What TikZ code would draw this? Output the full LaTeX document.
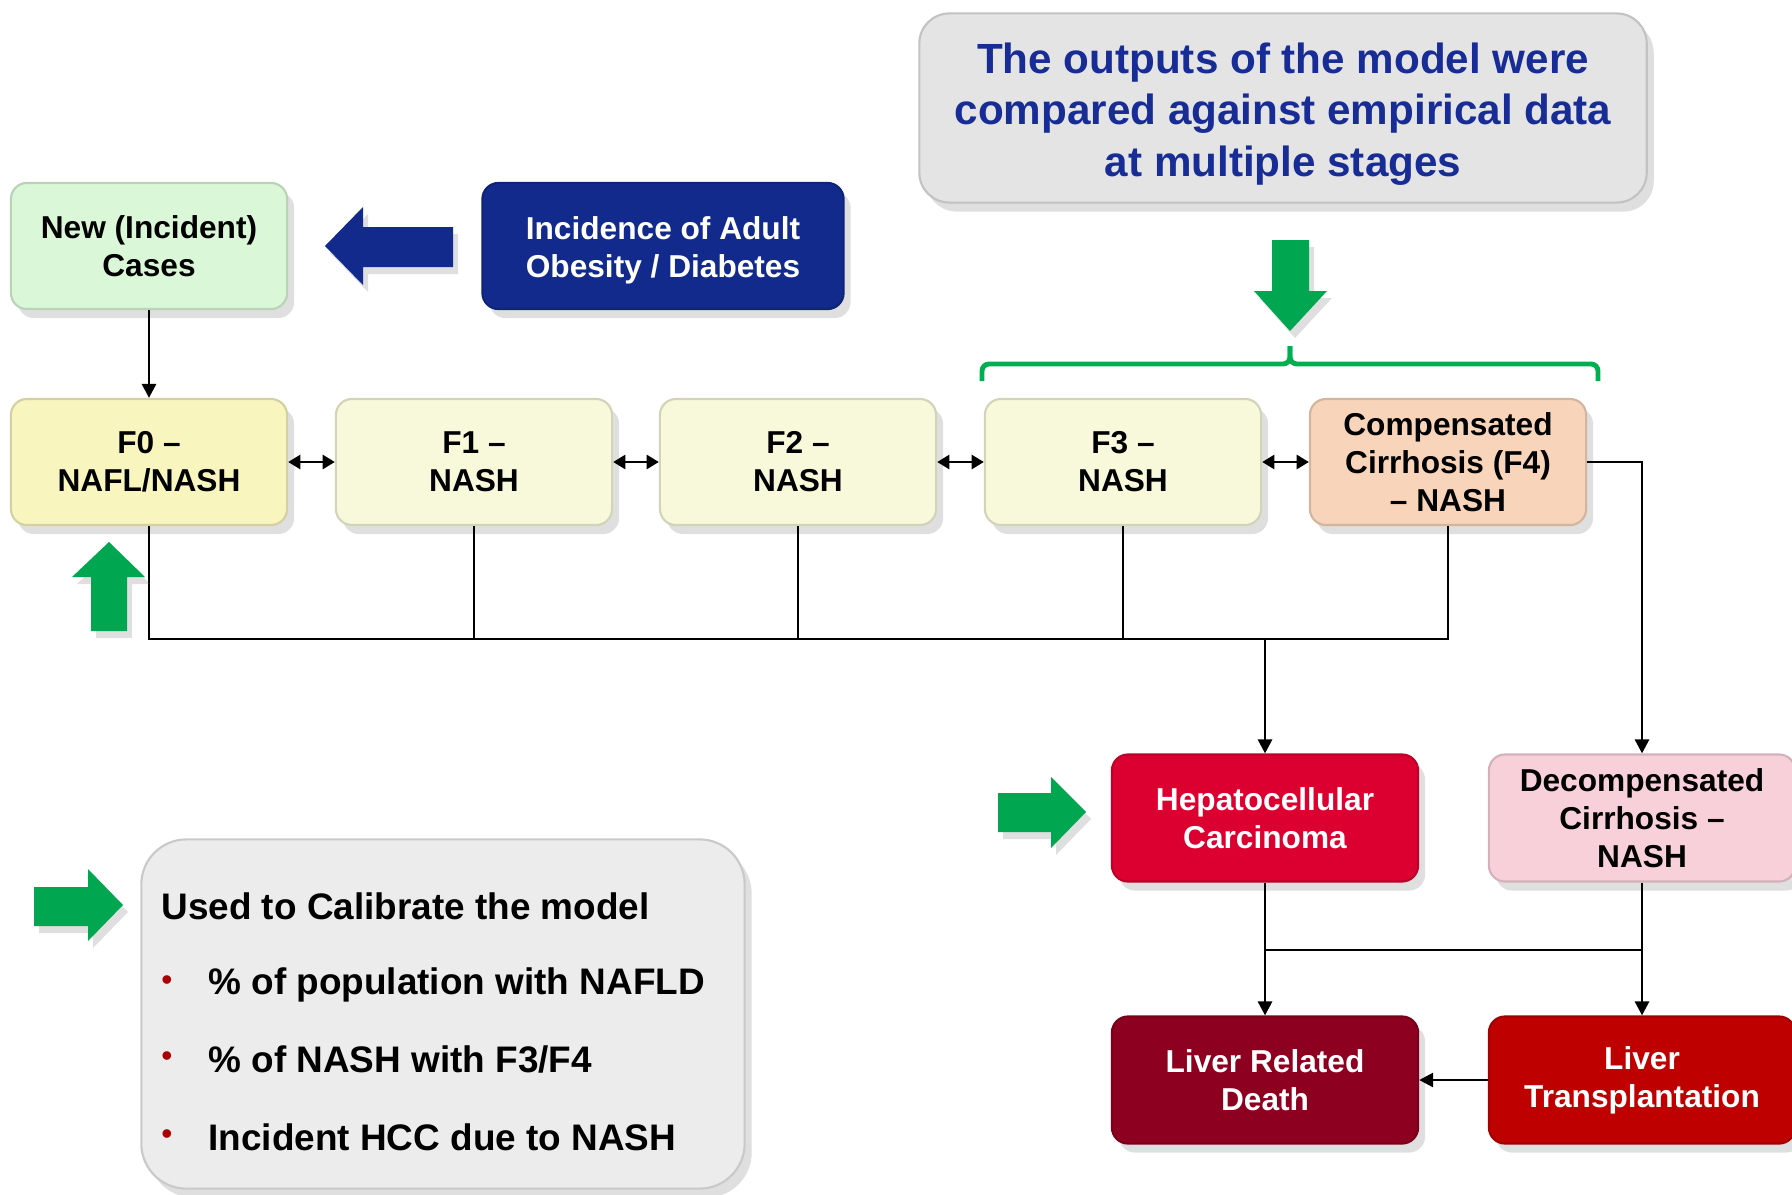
\documentclass[tikz,border=0pt]{standalone}
\usepackage{fontspec}
\setmainfont{Liberation Sans}
\usetikzlibrary{arrows.meta,shadows}

\definecolor{vertclair}{RGB}{218,247,216}
\definecolor{bleunuit}{RGB}{18,42,140}
\definecolor{jaunefo}{RGB}{248,245,190}
\definecolor{jaunepale}{RGB}{248,248,218}
\definecolor{peche}{RGB}{248,213,186}
\definecolor{rosepale}{RGB}{248,208,218}
\definecolor{rougehcc}{RGB}{220,0,48}
\definecolor{bordeaux}{RGB}{142,0,32}
\definecolor{rougelt}{RGB}{190,0,0}
\definecolor{grisclair}{RGB}{228,228,228}
\definecolor{grisbox}{RGB}{236,236,236}
\definecolor{bleutexte}{RGB}{24,44,150}
\definecolor{vertfleche}{RGB}{0,166,80}
\definecolor{vertaccolade}{RGB}{0,176,80}
\definecolor{puce}{RGB}{170,0,0}

\begin{document}
\begin{tikzpicture}[x=0.01cm,y=-0.01cm]
\tikzset{boite/.style={draw=#1!85!black, fill=#1, line width=0.6pt, rounded corners=0.16cm,
    minimum width=2.76cm, minimum height=1.26cm, align=center,
    font=\fontsize{9}{10.8}\selectfont\bfseries,
    drop shadow={shadow xshift=0.07cm, shadow yshift=-0.09cm, opacity=0.25}}}
\tikzset{bas/.style={minimum width=3.06cm, minimum height=1.27cm}}
\tikzset{trait/.style={line width=0.8pt}}
\tikzset{fleche/.style={trait, -{Triangle[length=4pt,width=4pt]}}}
\tikzset{bidir/.style={trait, {Triangle[length=3.5pt,width=4pt]}-{Triangle[length=3.5pt,width=4pt]}}}
\tikzset{vert/.style={fill=vertfleche, drop shadow={shadow xshift=0.05cm, shadow yshift=-0.07cm, opacity=0.25}}}
\useasboundingbox (0,0) rectangle (1792,1194);
% boites du haut
\node[boite=grisclair, minimum width=7.27cm, minimum height=1.89cm, rounded corners=0.3cm] (titre) at (1283,108) {};
\node[text=bleutexte, align=center, font=\fontsize{12}{14.6}\selectfont\bfseries] (titretexte) at (1283,114)
  {The outputs of the model were\\compared against empirical data\\at multiple stages};
\node[boite=vertclair] (nouv) at (149,246) {New (Incident)\\Cases};
\node[boite=bleunuit, minimum width=3.61cm] (incid) at (663,246) {};
\node[text=white, align=center, font=\fontsize{9}{10.8}\selectfont\bfseries] (incidtexte) at (663,250) {Incidence of Adult\\Obesity / Diabetes};
\fill[bleunuit, drop shadow={shadow xshift=0.05cm, shadow yshift=-0.07cm, opacity=0.25}]
  (325,246) -- (363,207) -- (363,227) -- (453,227) -- (453,267) -- (363,267) -- (363,285) -- cycle;
% stades de fibrose
\node[boite=jaunefo] (F0) at (149,462) {F0 –\\NAFL/NASH};
\node[boite=jaunepale] (F1) at (474,462) {F1 –\\NASH};
\node[boite=jaunepale] (F2) at (798,462) {F2 –\\NASH};
\node[boite=jaunepale] (F3) at (1123,462) {F3 –\\NASH};
\node[boite=peche] (F4) at (1448,462) {Compensated\\Cirrhosis (F4)\\– NASH};
% issues
\node[boite=rougehcc, bas, text=white] (hcc) at (1265,818) {Hepatocellular\\Carcinoma};
\node[boite=rosepale, bas] (decomp) at (1642,818) {Decompensated\\Cirrhosis –\\NASH};
\node[boite=bordeaux, bas, text=white] (deces) at (1265,1080) {Liver Related\\Death};
\node[boite=rougelt, bas, text=white] (greffe) at (1642,1080) {Liver\\Transplantation};
% calibration
\node[boite=grisbox, minimum width=6.03cm, minimum height=3.49cm, rounded corners=0.45cm] (calib) at (443,1014) {};
\node[anchor=west, font=\fontsize{10.5}{12}\selectfont\bfseries] (calibtitre) at (149,906) {Used to Calibrate the model};
\node[text=puce, font=\fontsize{9}{10}\selectfont] (p1) at (167,983) {•};
\node[text=puce, font=\fontsize{9}{10}\selectfont] (p2) at (167,1059) {•};
\node[text=puce, font=\fontsize{9}{10}\selectfont] (p3) at (167,1137) {•};
\node[anchor=west, font=\fontsize{10.5}{12}\selectfont\bfseries] (t1) at (196,985) {\% of population with NAFLD};
\node[anchor=west, font=\fontsize{10.5}{12}\selectfont\bfseries] (t2) at (196,1059) {\% of NASH with F3/F4};
\node[anchor=west, font=\fontsize{10.5}{12}\selectfont\bfseries] (t3) at (196,1137) {Incident HCC due to NASH};
% connecteurs
\draw[fleche] (nouv) -- (F0);
\draw[bidir] (F0) -- (F1);
\draw[bidir] (F1) -- (F2);
\draw[bidir] (F2) -- (F3);
\draw[bidir] (F3) -- (F4);
\coordinate (busg) at (149,639);
\coordinate (busd) at (1448,639);
\coordinate (busm) at (1265,639);
\draw[trait] (F0) -- (busg) -- (busd) -- (F4);
\draw[trait] (F1) -- (F1 |- busg);
\draw[trait] (F2) -- (F2 |- busg);
\draw[trait] (F3) -- (F3 |- busg);
\draw[fleche] (busm) -- (hcc);
\draw[fleche] (F4.east) -| (decomp.north);
\coordinate (jonctg) at (1265,950);
\coordinate (jonctd) at (1642,950);
\draw[fleche] (hcc) -- (deces);
\draw[fleche] (decomp) -- (greffe);
\draw[trait] (jonctg) -- (jonctd);
\draw[fleche] (greffe) -- (deces);
% fleches vertes et accolade
\fill[vert] (1272,240) -- (1309,240) -- (1309,291) -- (1327,291) -- (1290,331) -- (1254,291) -- (1272,291) -- cycle;
\draw[vertaccolade, line width=1.4pt, rounded corners=2pt] (982,381) -- (982,364) -- (1290,364) -- (1290,346);
\draw[vertaccolade, line width=1.4pt, rounded corners=2pt] (1290,346) -- (1290,364) -- (1598,364) -- (1598,381);
\fill[vert] (109,542) -- (145,577) -- (127,577) -- (127,631) -- (91,631) -- (91,577) -- (72,577) -- cycle;
\fill[vert] (998,793) -- (1051,793) -- (1051,777) -- (1086,812) -- (1051,848) -- (1051,832) -- (998,832) -- cycle;
\fill[vert] (34,887) -- (88,887) -- (88,869) -- (123,905) -- (88,941) -- (88,926) -- (34,926) -- cycle;
\end{tikzpicture}
\end{document}
